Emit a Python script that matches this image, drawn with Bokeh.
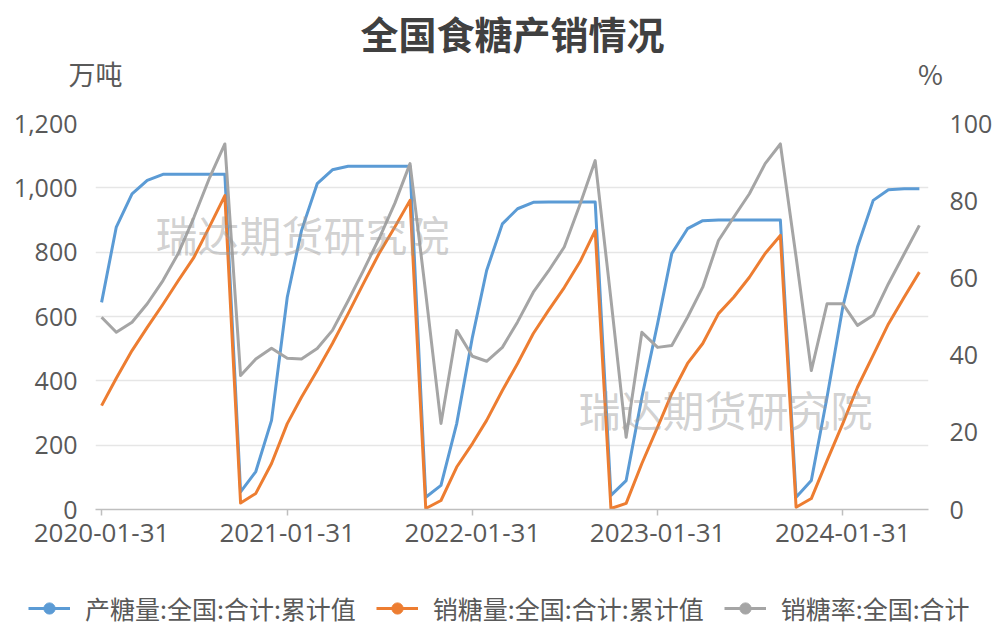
import pandas as pd
from bokeh.plotting import figure
from bokeh.layouts import column
from bokeh.models import (Range1d, LinearAxis, FixedTicker, NumeralTickFormatter,
                          DatetimeTickFormatter, Label, Legend, LegendItem)
from bokeh.embed import file_html
from bokeh.resources import INLINE

# monthly data, 2020-01 .. 2024-06
months = pd.date_range("2020-01-31", periods=54, freq=pd.offsets.MonthEnd())

produce = [644, 878, 981, 1023, 1042, 1042, 1042, 1042, 1042,
           55, 118, 277, 660, 867, 1013, 1056, 1067, 1067, 1067, 1067, 1067,
           38, 75, 267, 536, 743, 888, 935, 955, 956, 956, 956, 956,
           44, 90, 349, 578, 796, 873, 898, 900, 900, 900, 900, 900,
           38, 90, 349, 629, 816, 961, 994, 997, 997]

sales = [323, 408, 494, 566, 638, 711, 784, 880, 976,
         20, 50, 143, 267, 349, 432, 516, 609, 702, 796, 878, 961,
         3, 28, 132, 205, 277, 370, 454, 547, 619, 690, 770, 867,
         3, 19, 143, 256, 360, 454, 516, 609, 660, 722, 796, 852,
         7, 34, 152, 267, 380, 480, 577, 660, 738]

sales_rate = [49.8, 45.9, 48.5, 53.3, 59.3, 66.3, 75.7, 86.0, 94.7,
              34.7, 39.0, 41.8, 39.2, 39.0, 41.7, 46.4, 54.1, 61.9, 70.2, 79.3, 89.6,
              56.0, 22.3, 46.4, 39.7, 38.4, 42.0, 48.6, 56.3, 61.8, 68.0, 79.0, 90.4,
              54.5, 18.7, 45.9, 42.0, 42.5, 49.8, 57.6, 69.7, 75.7, 81.8, 89.6, 94.7,
              65.4, 36.0, 53.3, 53.3, 47.7, 50.3, 58.5, 66.2, 73.6]

tick_dates = ["2020-01-31", "2021-01-31", "2022-01-31", "2023-01-31", "2024-01-31"]
left_ticks = [0, 200, 400, 600, 800, 1000, 1200]
right_ticks = [0, 20, 40, 60, 80, 100]

names = ["产糖量:全国:合计:累计值", "销糖量:全国:合计:累计值", "销糖率:全国:合计"]
colors = ["#5b9bd5", "#ed7d31", "#a5a5a5"]

CJK = "Noto Sans CJK SC"
NUM = "Open Sans"
TXT = "#595959"
W = 1000


def blank(height):
    f = figure(width=W, height=height, output_backend="svg", toolbar_location=None,
               x_range=Range1d(0, 1), y_range=Range1d(0, 1),
               x_axis_location=None, y_axis_location=None, min_border=0,
               frame_align=False)
    f.outline_line_color = None
    f.grid.visible = False
    return f


# header: title + axis units
head = blank(100)
head.add_layout(Label(x=512, y=68, x_units="screen", y_units="screen",
                      text="全国食糖产销情况", text_font=CJK, text_font_size="38px",
                      text_font_style="bold", text_color="#404040",
                      text_align="center", text_baseline="middle"))
head.add_layout(Label(x=68, y=27, x_units="screen", y_units="screen",
                      text="万吨", text_font=CJK, text_font_size="27px", text_color=TXT,
                      text_baseline="middle"))
head.add_layout(Label(x=930, y=27, x_units="screen", y_units="screen",
                      text="%", text_font=CJK, text_font_size="27px", text_color=TXT,
                      text_align="center", text_baseline="middle"))

# main chart
p = figure(width=W, height=462, x_axis_type="datetime",
           x_range=Range1d(pd.Timestamp("2020-01-19"), pd.Timestamp("2024-07-18")),
           y_range=Range1d(0, 1200),
           output_backend="svg", toolbar_location=None,
           min_border_left=95, min_border_right=72,
           min_border_top=23, min_border_bottom=53, frame_align=False)
p.outline_line_color = None
p.extra_y_ranges = {"pct": Range1d(0, 100)}

p.yaxis.ticker = FixedTicker(ticks=left_ticks)
p.yaxis.formatter = NumeralTickFormatter(format="0,0")
p.add_layout(LinearAxis(y_range_name="pct", ticker=FixedTicker(ticks=right_ticks)), "right")
for ax in p.yaxis:
    ax.axis_line_color = None
    ax.major_tick_line_color = None
    ax.minor_tick_line_color = None
    ax.major_label_text_font = NUM
    ax.major_label_text_font_size = "25px"
    ax.major_label_text_color = TXT
p.yaxis[0].major_label_standoff = 12
p.yaxis[1].major_label_standoff = 15

p.xaxis.ticker = FixedTicker(ticks=[pd.Timestamp(d).timestamp() * 1000 for d in tick_dates])
fmt = "%Y-%m-%d"
p.xaxis.formatter = DatetimeTickFormatter(days=fmt, months=fmt, years=fmt,
                                          hours=fmt, hourmin=fmt, strip_leading_zeros=False)
p.xaxis.axis_line_color = "#bfbfbf"
p.xaxis.axis_line_width = 1.5
p.xaxis.major_tick_line_color = "#bfbfbf"
p.xaxis.major_tick_line_width = 1.5
p.xaxis.major_tick_in = 0
p.xaxis.major_tick_out = 6
p.xaxis.minor_tick_line_color = None
p.xaxis.major_label_standoff = 8
p.xaxis.major_label_text_font = NUM
p.xaxis.major_label_text_font_size = "26px"
p.xaxis.major_label_text_color = TXT

p.xgrid.grid_line_color = None
p.ygrid.grid_line_color = "#e6e6e6"
p.ygrid.grid_line_width = 1.5

# watermarks
for wx, wy in [(60, 276), (483, 101)]:
    p.add_layout(Label(x=wx, y=wy, x_units="screen", y_units="screen",
                       text="瑞达期货研究院", text_font=CJK, text_font_size="42px",
                       text_color="#9a9a9a", text_alpha=0.45, text_baseline="middle"))

p.line(months, produce, color=colors[0], line_width=3, line_join="round")
p.line(months, sales, color=colors[1], line_width=3, line_join="round")
p.line(months, sales_rate, color=colors[2], line_width=3, line_join="round",
       y_range_name="pct")

# legend row: swatch renderers sit outside the visible range, only the legend shows them
foot = blank(64)
items = []
for name, c in zip(names, colors):
    ln = foot.line([-2, -1], [-2, -1], color=c, line_width=3)
    mk = foot.scatter([-2], [-2], marker="circle", size=15, color=c)
    items.append(LegendItem(label=name, renderers=[ln, mk]))
foot.add_layout(Legend(items=items, orientation="horizontal", location=(28, 0),
                       background_fill_alpha=0, border_line_color=None,
                       padding=0, margin=0, spacing=20, glyph_width=42, glyph_height=28,
                       label_standoff=15, label_text_font=CJK, label_text_font_size="25px",
                       label_text_color=TXT))

layout = column(head, p, foot, spacing=0)
open("out.html", "w").write(file_html(layout, INLINE))
